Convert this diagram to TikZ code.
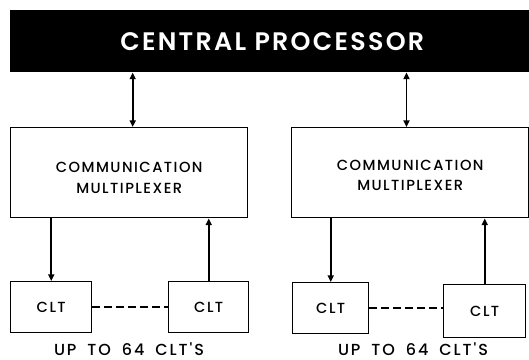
\documentclass[tikz,border=0pt]{standalone}
\usepackage{fontspec}
\setmainfont{Poppins}
\newfontfamily\boxfont[LetterSpace=10, UprightFont={* Medium}]{Poppins}
\newfontfamily\headfont[LetterSpace=9, UprightFont={* SemiBold}]{Poppins}
\newfontfamily\notefont[LetterSpace=12, WordSpace=1.8, UprightFont={* Medium}]{Poppins}
\usepackage{tikz}
\usetikzlibrary{arrows.meta}

\tikzset{
  blockbox/.style={draw, line width=1.1pt, inner sep=0pt, anchor=north west, align=center, font=\boxfont\fontsize{11}{15.5}\selectfont},
  blocktext/.style={inner sep=0pt, align=center, font=\boxfont\fontsize{11}{15.5}\selectfont},
  busline/.style={line width=1.4pt, {Triangle[length=5pt,width=4.5pt]}-{Triangle[length=5pt,width=4.5pt]}},
  sigline/.style={line width=1.4pt, -{Triangle[length=5pt,width=4.5pt]}},
  linkline/.style={line width=1.4pt, dash pattern=on 5.5pt off 3.5pt},
}

\begin{document}
\begin{tikzpicture}[x=0.75pt,y=0.75pt,yscale=-1,xscale=1]
\useasboundingbox (0,0) rectangle (529,360);
\clip (0,0) rectangle (529,360);

% Central processor
\draw (10,10) node [anchor=north west, fill=black, text=white, inner sep=0pt, minimum width=393pt, minimum height=46.5pt, font=\headfont\fontsize{19}{22}\selectfont] (cp) {CENTRAL PROCESSOR};

% Multiplexers
\draw (10,127) node [blockbox, minimum width=177.75pt, minimum height=67.5pt] (mux1) {};
\draw (291,127) node [blockbox, minimum width=177.75pt, minimum height=67.5pt] (mux2) {};
% Text Node
\draw ([yshift=4pt]mux1.center) node [blocktext] (mux1txt) {COMMUNICATION\\MULTIPLEXER};
% Text Node
\draw ([yshift=2pt]mux2.center) node [blocktext] (mux2txt) {COMMUNICATION\\MULTIPLEXER};

% Line terminals
\draw (10,281) node [blockbox, minimum width=60.75pt, minimum height=38.25pt] (clt1) {CLT};
\draw (168,281) node [blockbox, minimum width=60pt, minimum height=38.25pt] (clt2) {CLT};
\draw (292,282) node [blockbox, minimum width=57pt, minimum height=38.25pt] (clt3) {CLT};
\draw (443,284) node [blockbox, minimum width=61.5pt, minimum height=39.75pt] (clt4) {CLT};

% Text Node
\draw (129,349) node [font=\notefont\fontsize{12}{14}\selectfont] (lbl1) {UP TO 64 CLT'S};
% Text Node
\draw (413,349) node [font=\notefont\fontsize{12}{14}\selectfont] (lbl2) {UP TO 64 CLT'S};

% processor to multiplexers
\coordinate (in1) at ([xshift=2.6pt]mux1.north);
\coordinate (in2) at ([xshift=-2.8pt]mux2.north);
\draw [busline] (in1 |- cp.south) -- (in1);
\draw [busline] (in2 |- cp.south) -- (in2);

% multiplexers to terminals
\draw [sigline] (clt1.north |- mux1.south) -- (clt1.north);
\draw [sigline] (clt2.north) -- (clt2.north |- mux1.south);
\draw [sigline] (clt3.north |- mux2.south) -- (clt3.north);
\draw [sigline] (clt4.north) -- (clt4.north |- mux2.south);

% dashed links
\draw [linkline] (clt1.east) -- (clt2.west);
\draw [linkline] (clt3.east) -- (clt3.east -| clt4.west);

\end{tikzpicture}
\end{document}
